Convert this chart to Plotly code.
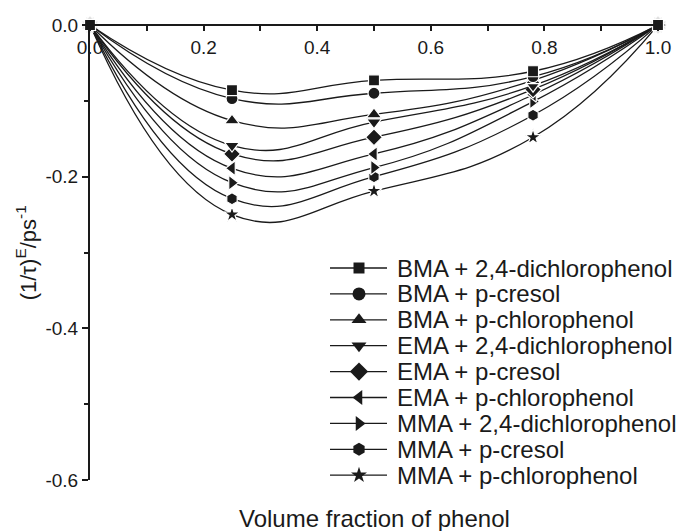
import plotly.graph_objects as go

x_vals = [0.0, 0.25, 0.5, 0.78, 1.0]

series_names = [
    "BMA + 2,4-dichlorophenol",
    "BMA + p-cresol",
    "BMA + p-chlorophenol",
    "EMA + 2,4-dichlorophenol",
    "EMA + p-cresol",
    "EMA + p-chlorophenol",
    "MMA + 2,4-dichlorophenol",
    "MMA + p-cresol",
    "MMA + p-chlorophenol",
]

bma_24dcp = [0.0, -0.086, -0.073, -0.061, 0.0]
bma_pcresol = [0.0, -0.097, -0.090, -0.068, 0.0]
bma_pcp = [0.0, -0.126, -0.118, -0.073, 0.0]
ema_24dcp = [0.0, -0.159, -0.128, -0.080, 0.0]
ema_pcresol = [0.0, -0.170, -0.148, -0.085, 0.0]
ema_pcp = [0.0, -0.189, -0.170, -0.092, 0.0]
mma_24dcp = [0.0, -0.208, -0.188, -0.101, 0.0]
mma_pcresol = [0.0, -0.229, -0.200, -0.119, 0.0]
mma_pcp = [0.0, -0.250, -0.219, -0.148, 0.0]

series_values = [bma_24dcp, bma_pcresol, bma_pcp, ema_24dcp, ema_pcresol,
                 ema_pcp, mma_24dcp, mma_pcresol, mma_pcp]

symbols = ["square", "circle", "triangle-up", "triangle-down", "diamond",
           "triangle-left", "triangle-right", "hexagon", "star"]
sizes = [11, 12, 13, 13, 13, 13, 13, 12, 12]
legend_sizes = [11, 13, 13, 13, 14, 13, 13, 13, 12]

x_tick_vals = [0.0, 0.2, 0.4, 0.6, 0.8, 1.0]
x_tick_text = ["0.0", "0.2", "0.4", "0.6", "0.8", "1.0"]
y_tick_vals = [0.0, -0.2, -0.4, -0.6]
y_tick_text = ["0.0", "-0.2", "-0.4", "-0.6"]

INK = "#1a1a1a"
FONT = "Liberation Sans, Arial, sans-serif"

# page-pixel layout of the hand-made legend (style/positions, not data)
W, H = 679, 531
M_L, M_R, M_T, M_B = 90, 21, 25, 51
LEG_LINE_X0, LEG_LINE_X1, LEG_MARK_X, LEG_TEXT_X = 330, 387, 359, 395
LEG_ROW0, LEG_ROW_STEP = 268, 25.9

fig = go.Figure()
# draw in reverse so the first series sits on top
for i in reversed(range(len(series_names))):
    fig.add_trace(go.Scatter(
        x=x_vals, y=series_values[i], name=series_names[i],
        mode="lines+markers",
        line=dict(color=INK, width=1.3, shape="spline", smoothing=1.3),
        marker=dict(symbol=symbols[i], size=sizes[i], color=INK,
                    line=dict(color="white", width=1.2)),
        cliponaxis=False, showlegend=False,
    ))

# legend samples drawn on a hidden pixel-scaled axis pair
annotations = []
for i, name in enumerate(series_names):
    yy = LEG_ROW0 + i * LEG_ROW_STEP
    fig.add_trace(go.Scatter(
        x=[LEG_LINE_X0, LEG_LINE_X1], y=[yy, yy], xaxis="x2", yaxis="y2",
        mode="lines", line=dict(color=INK, width=1.3),
        showlegend=False, hoverinfo="skip", cliponaxis=False,
    ))
    fig.add_trace(go.Scatter(
        x=[LEG_MARK_X], y=[yy], xaxis="x2", yaxis="y2",
        mode="markers",
        marker=dict(symbol=symbols[i], size=legend_sizes[i], color=INK),
        showlegend=False, hoverinfo="skip", cliponaxis=False,
    ))
    annotations.append(dict(
        text=name, xref="x2", yref="y2", x=LEG_TEXT_X, y=yy,
        xanchor="left", yanchor="middle", showarrow=False,
        font=dict(size=24, family=FONT, color=INK),
    ))

annotations += [
    dict(text="Volume fraction of phenol", xref="paper", yref="paper",
         x=0.5, y=-0.085, xanchor="center", yanchor="middle",
         showarrow=False, font=dict(size=24)),
    dict(text="(1/τ)<sup>E</sup>/ps<sup>-1</sup>", xref="paper", yref="paper",
         x=-0.113, y=0.5, xanchor="center", yanchor="middle", textangle=-90,
         showarrow=False, font=dict(size=22)),
]

fig.update_layout(
    width=W, height=H,
    margin=dict(l=M_L, r=M_R, t=M_T, b=M_B, autoexpand=False),
    paper_bgcolor="white", plot_bgcolor="rgba(0,0,0,0)",
    font=dict(family=FONT, color=INK, size=19),
    showlegend=False,
    xaxis=dict(
        range=[0, 1], anchor="free", position=1, side="bottom",
        showline=True, linewidth=2, linecolor=INK,
        ticks="outside", ticklen=5, tickwidth=1.5, tickcolor=INK,
        tickvals=x_tick_vals, ticktext=x_tick_text, tickfont=dict(size=19),
        minor=dict(ticks="outside", ticklen=5, tickwidth=1.5, tickcolor=INK,
                   tickvals=[0.1, 0.3, 0.5, 0.7, 0.9]),
        showgrid=False, zeroline=False, fixedrange=True,
    ),
    yaxis=dict(
        range=[-0.6, 0], showline=True, linewidth=2, linecolor=INK,
        ticks="outside", ticklen=6, tickwidth=1.5, tickcolor=INK,
        tickvals=y_tick_vals, ticktext=y_tick_text, tickfont=dict(size=19),
        minor=dict(ticks="outside", ticklen=4, tickwidth=1.5, tickcolor=INK,
                   tickvals=[-0.1, -0.3, -0.5]),
        showgrid=False, zeroline=False, fixedrange=True,
    ),
    xaxis2=dict(range=[M_L, W - M_R], domain=[0, 1], anchor="y2",
                visible=False, fixedrange=True),
    yaxis2=dict(range=[H - M_B, M_T], domain=[0, 1], anchor="x2",
                visible=False, fixedrange=True),
    annotations=annotations,
)

fig.write_html("out.html", config={"displayModeBar": False},
               post_script="document.body.style.margin='0';")
